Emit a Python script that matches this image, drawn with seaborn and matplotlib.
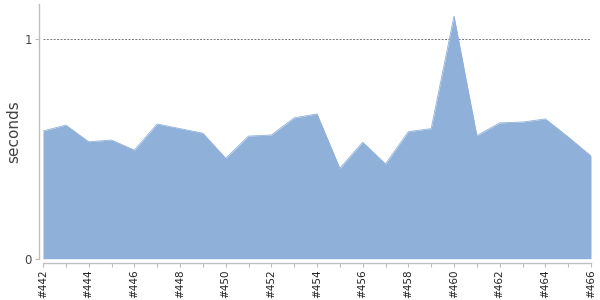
import matplotlib
matplotlib.use("Agg")
import matplotlib.pyplot as plt
import seaborn as sns
import pandas as pd

builds = list(range(442, 467))
seconds = [0.582, 0.609, 0.533, 0.541, 0.495, 0.614, 0.593, 0.572, 0.458, 0.559,
           0.564, 0.642, 0.660, 0.412, 0.531, 0.432, 0.579, 0.593, 1.106, 0.561,
           0.619, 0.623, 0.637, 0.555, 0.468]
tick_labels = ["#%d" % b for b in builds[::2]]

sns.set_theme(style="white")
plt.rcParams['font.family'] = ['DejaVu Sans']

df = pd.DataFrame({"build": builds, "seconds": seconds})

fig = plt.figure(figsize=(6, 3), dpi=100)
ax = fig.add_axes([43/600, (300-258.7)/300, 548/600, (258.7-4)/300])

color = "#8fb0d9"
sns.lineplot(data=df, x="build", y="seconds", ax=ax, color=color, linewidth=0.6)
ax.fill_between(df["build"], 0, df["seconds"], color=color, linewidth=0)

sns.despine(ax=ax, offset=3)
for s in ["left", "bottom"]:
    ax.spines[s].set_color("#c0c0c0")
    ax.spines[s].set_linewidth(1)

ax.set_xlim(builds[0], builds[-1])
ax.set_ylim(0, 1.161)
ax.axhline(1, color="#777777", linestyle=(0, (2, 1.5)), linewidth=0.7, zorder=0)

ax.set_xticks(builds, minor=True)
ax.set_xticks(builds[::2])
ax.set_xticklabels(tick_labels, rotation=90, fontsize=7.5, color="#222222")
ax.set_yticks([0, 1])
ax.set_yticklabels(["0", "1"], fontsize=8.5, color="#444444")
ax.tick_params(axis="both", which="both", direction="out", length=3, width=0.8,
               color="#bbbbbb", bottom=True, left=True, pad=2)
ax.tick_params(axis="x", which="minor", length=3)

ax.set_xlabel("")
ax.set_ylabel("seconds", fontsize=11, color="#444444", labelpad=2)

fig.savefig("out.png", dpi=100)
